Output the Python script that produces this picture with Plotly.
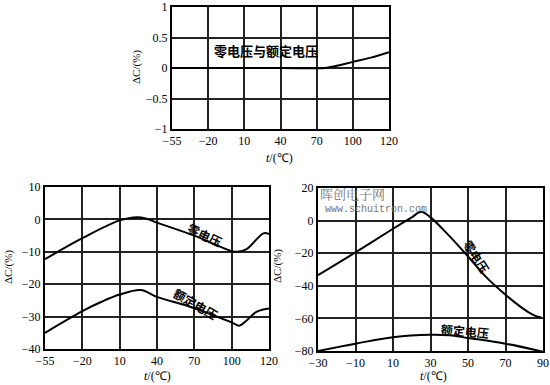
import numpy as np
import plotly.graph_objects as go

W, H = 550, 385

# ---------------- data ----------------
# top chart (x ticks evenly spaced although values are not)
top_ticks = [-55, -20, 10, 40, 70, 100, 120]
top_t = [-55, 10, 40, 77, 85, 100, 110, 120]
top_v = [0, 0, 0, 0, 0.03, 0.10, 0.17, 0.26]
top_label = "零电压与额定电压"

# bottom-left chart
bl_ticks = [-55, -20, 10, 40, 70, 100, 120]
bl_zero_t = [-55, -20, 10, 24, 31, 40, 70, 100, 103, 108, 117, 120]
bl_zero_v = [-12.3, -5.8, -0.3, 0.7, 0.3, -1.0, -5.0, -9.8, -10.0, -9.2, -4.3, -4.5]
bl_rated_t = [-55, -20, -5, 10, 27, 40, 70, 100, 104, 108, 113, 117, 120]
bl_rated_v = [-35, -28.3, -25.5, -23.2, -21.8, -23.9, -27.4, -31.8, -32.8, -31.2, -28.6, -27.8, -27.5]

# bottom-right chart
br_ticks = [-30, -10, 10, 30, 50, 70, 90]
br_zero_t = [-30, -10, 10, 20, 25, 30, 40, 50, 60, 70, 80, 85, 89]
br_zero_v = [-33.5, -19.5, -5, 2, 5.4, 2, -9.4, -22, -35, -45.5, -54.5, -58, -59.5]
br_rated_t = [-30, -10, 10, 30, 40, 50, 70, 90]
br_rated_v = [-80, -75.5, -71.5, -70, -70.3, -72, -75.5, -80.5]

zero_label = "零电压"
rated_label = "额定电压"
y_title = "ΔC/(%)"
x_title = "<i>t</i>/(℃)"

# ---------------- helpers ----------------
def pos(t, ticks):
    return np.interp(t, ticks, np.arange(len(ticks)))

def tl(v):
    return str(v).replace("-", "−")

def px(x):
    return x / W

def py(y):
    return 1 - y / H

SERIF = "Liberation Serif"
CJK = "Noto Sans CJK SC"
LINE = dict(color="black", width=2)

fig = go.Figure()

fig.add_trace(go.Scatter(x=pos(top_t, top_ticks), y=top_v, mode="lines",
                         line=LINE, line_shape="spline", xaxis="x", yaxis="y"))
fig.add_trace(go.Scatter(x=pos(bl_zero_t, bl_ticks), y=bl_zero_v, mode="lines",
                         line=LINE, line_shape="spline", xaxis="x2", yaxis="y2"))
fig.add_trace(go.Scatter(x=pos(bl_rated_t, bl_ticks), y=bl_rated_v, mode="lines",
                         line=LINE, line_shape="spline", xaxis="x2", yaxis="y2"))
fig.add_trace(go.Scatter(x=br_zero_t, y=br_zero_v, mode="lines",
                         line=LINE, line_shape="spline", xaxis="x3", yaxis="y3"))
fig.add_trace(go.Scatter(x=br_rated_t, y=br_rated_v, mode="lines",
                         line=LINE, line_shape="spline", xaxis="x3", yaxis="y3"))

axis_common = dict(showgrid=True, gridcolor="#222222", gridwidth=2,
                   showline=True, linecolor="black", linewidth=2, mirror=True,
                   zeroline=False, ticks="", color="black", automargin=False,
                   ticklabeloverflow="allow",
                   tickfont=dict(family=SERIF, size=12, color="black"))

fig.update_layout(
    width=W, height=H, margin=dict(l=0, r=0, t=0, b=0, autoexpand=False),
    paper_bgcolor="white", plot_bgcolor="white", showlegend=False,
    hovermode=False,
    xaxis=dict(domain=[px(172), px(389)], anchor="y", range=[0, 6],
               tickmode="array", tickvals=list(range(7)),
               ticktext=[tl(v) for v in top_ticks], **axis_common),
    yaxis=dict(domain=[py(129), py(7)], anchor="x", range=[-1, 1],
               tickmode="array", tickvals=[-1, -0.5, 0, 0.5, 1],
               ticktext=["−1", "−0.5", "0", "0.5", "1"], **axis_common),
    xaxis2=dict(domain=[px(45), px(269)], anchor="y2", range=[0, 6],
                tickmode="array", tickvals=list(range(7)),
                ticktext=[tl(v) for v in bl_ticks], **axis_common),
    yaxis2=dict(domain=[py(349), py(187)], anchor="x2", range=[-40, 10],
                tickmode="array", tickvals=[-40, -30, -20, -10, 0, 10],
                ticktext=["−40", "−30", "−20", "−10", "0", "10"], **axis_common),
    xaxis3=dict(domain=[px(318), px(543)], anchor="y3", range=[-30, 90],
                tickmode="array", tickvals=br_ticks,
                ticktext=[tl(v) for v in br_ticks], **axis_common),
    yaxis3=dict(domain=[py(351), py(188)], anchor="x3", range=[-80, 20],
                tickmode="array", tickvals=[-80, -60, -40, -20, 0, 20],
                ticktext=["−80", "−60", "−40", "−20", "0", "20"], **axis_common),
)

def ann(x, y, text, angle=0, font=None):
    fig.add_annotation(x=px(x), y=py(y), xref="paper", yref="paper", text=text,
                       showarrow=False, textangle=angle,
                       font=font or dict(family=SERIF, size=12, color="black"),
                       xanchor="center", yanchor="middle")

cjk_font = dict(family=CJK, size=12, color="black", weight="bold")
ann(266, 50, top_label, 0, dict(family=CJK, size=13, color="black", weight="bold"))
ann(205, 234, zero_label, 25, cjk_font)
ann(196, 303, rated_label, 30, cjk_font)
ann(477, 256, zero_label, 57, cjk_font)
ann(465, 330, rated_label, 5, cjk_font)

# axis titles
ann(137, 67, y_title, -90, dict(family=SERIF, size=11, color="black"))
ann(8, 267, y_title, -90, dict(family=SERIF, size=11, color="black"))
ann(277, 266, y_title, -90, dict(family=SERIF, size=11, color="black"))
ann(280, 158, x_title)
ann(157, 376, x_title)
ann(433, 376, x_title)

# watermark
ann(352, 194, "晖创电子网", 0, dict(family="Noto Serif CJK SC, Noto Sans CJK SC", size=13, color="#777777"))
ann(376, 210, "www.schuitron.com", 0, dict(family="Liberation Mono", size=10, color="#777777"))

fig.write_html("out.html", config={"displayModeBar": False, "staticPlot": True},
               post_script="document.body.style.margin='0';document.body.style.overflow='hidden';")
